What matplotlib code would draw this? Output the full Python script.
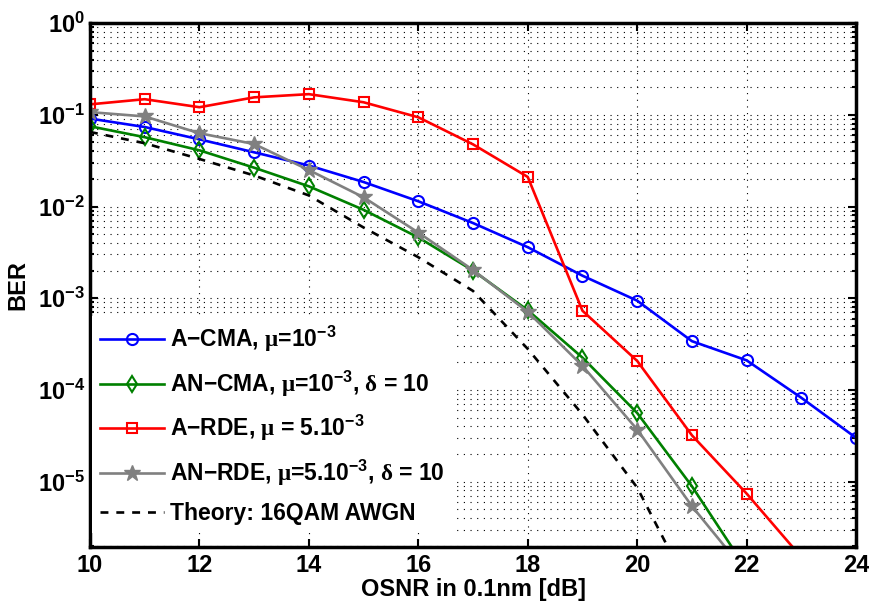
import matplotlib
matplotlib.use("Agg")
import matplotlib.pyplot as plt
import numpy as np
from matplotlib.ticker import LogLocator, FixedLocator, NullFormatter

plt.rcParams['font.family'] = ['Liberation Sans', 'DejaVu Sans']
plt.rcParams['font.weight'] = 'bold'
plt.rcParams['mathtext.fontset'] = 'custom'
plt.rcParams['mathtext.rm'] = 'Liberation Sans:bold'
plt.rcParams['mathtext.it'] = 'Liberation Sans:bold'
plt.rcParams['mathtext.bf'] = 'Liberation Sans:bold'
plt.rcParams['mathtext.sf'] = 'Liberation Serif'
plt.rcParams['mathtext.default'] = 'rm'

# ---- data ----
osnr = [10, 11, 12, 13, 14, 15, 16, 17, 18, 19, 20, 21, 22, 23, 24]
a_cma = [0.091, 0.0736, 0.054, 0.039, 0.028, 0.0185, 0.0114, 0.0066, 0.0036,
         0.00176, 9.4e-4, 3.4e-4, 2.1e-4, 8.2e-5, 3.0e-5]

osnr_an_cma = [10, 11, 12, 13, 14, 15, 16, 17, 18, 19, 20, 21, 22]
an_cma = [0.075, 0.057, 0.041, 0.0265, 0.0166, 0.0092, 0.0046, 0.0020, 7.4e-4,
          2.25e-4, 5.6e-5, 8.9e-6, 1.1e-6]

osnr_a_rde = [10, 11, 12, 13, 14, 15, 16, 17, 18, 19, 20, 21, 22, 23]
a_rde = [0.13, 0.148, 0.121, 0.155, 0.168, 0.137, 0.094, 0.0476, 0.021,
         7.3e-4, 2.07e-4, 3.2e-5, 7.4e-6, 1.5e-6]

osnr_an_rde = [10, 11, 12, 13, 14, 15, 16, 17, 18, 19, 20, 21, 22]
an_rde = [0.107, 0.096, 0.063, 0.048, 0.025, 0.0126, 0.0052, 0.00203, 7.1e-4,
          1.83e-4, 3.7e-5, 5.4e-6, 1.0e-6]

osnr_theory = [10, 11, 12, 13, 14, 15, 16, 17, 18, 19, 20, 21]
theory = [0.065, 0.049, 0.033, 0.0218, 0.0132, 0.0059, 0.0028, 0.0012, 2.8e-4,
          5.4e-5, 8.6e-6, 6.0e-7]

x_ticks = [10, 12, 14, 16, 18, 20, 22, 24]
y_ticks = [1e-5, 1e-4, 1e-3, 1e-2, 1e-1, 1e0]

labels = [r'A$-$CMA, $\mathsf{\mu}$=10$^{-3}$',
          r'AN$-$CMA, $\mathsf{\mu}$=10$^{-3}$, $\mathsf{\delta}$ = 10',
          r'A$-$RDE, $\mathsf{\mu}$ = 5.10$^{-3}$',
          r'AN$-$RDE, $\mathsf{\mu}$=5.10$^{-3}$, $\mathsf{\delta}$ = 10',
          'Theory: 16QAM AWGN']

fig = plt.figure(figsize=(8.7, 6.08), dpi=100)
ax = fig.add_axes([0.1034, 0.1008, 0.8806, 0.8612])

lw = 1.9
ax.semilogy(osnr, a_cma, color=(0, 0, 1), lw=lw, marker='o', ms=8,
            mfc='none', mew=1.5, label=labels[0])
ax.semilogy(osnr_an_cma, an_cma, color=(0, 0.5, 0), lw=lw, marker='d', ms=8,
            mfc='none', mew=1.5, label=labels[1])
ax.semilogy(osnr_a_rde, a_rde, color=(1, 0, 0), lw=lw, marker='s', ms=7,
            mfc='none', mew=1.5, label=labels[2])
ax.semilogy(osnr_an_rde, an_rde, color=(0.5, 0.5, 0.5), lw=lw, marker='*', ms=12,
            mfc=(0.5, 0.5, 0.5), mew=1.0, label=labels[3])
ax.semilogy(osnr_theory, theory, color='black', lw=lw, ls=(0, (3, 3)),
            label=labels[4])

ax.set_xlim(10, 24)
ax.set_ylim(1.95e-6, 1)
ax.set_xticks(x_ticks)
ax.yaxis.set_major_locator(FixedLocator(y_ticks))
ax.yaxis.set_minor_locator(LogLocator(base=10, subs=np.arange(2, 10), numticks=20))
ax.yaxis.set_minor_formatter(NullFormatter())

grid_ls = (0, (1, 5))
ax.grid(True, which='major', axis='both', color='black', lw=0.8, ls=grid_ls)
ax.grid(True, which='minor', axis='y', color='black', lw=0.8, ls=grid_ls)

ax.tick_params(which='both', direction='in', top=True, right=True,
               labelsize=17, width=1.5)
ax.tick_params(which='major', length=6)
ax.tick_params(which='minor', length=3)
ax.tick_params(axis='x', pad=5)
for s in ax.spines.values():
    s.set_linewidth(2.5)

ax.set_xlabel('OSNR in 0.1nm [dB]', fontsize=17, fontweight='bold', labelpad=1)
ax.set_ylabel('BER', fontsize=17, fontweight='bold', labelpad=6)

leg = ax.legend(loc='lower left', bbox_to_anchor=(0.0, 0.022), fontsize=16.5,
                frameon=True, fancybox=False, edgecolor='white', framealpha=1,
                handlelength=2.8, labelspacing=0.62, borderaxespad=0.1,
                handletextpad=0.25, borderpad=0.35)
leg.get_frame().set_linewidth(0)

fig.savefig('out.png', dpi=100)
